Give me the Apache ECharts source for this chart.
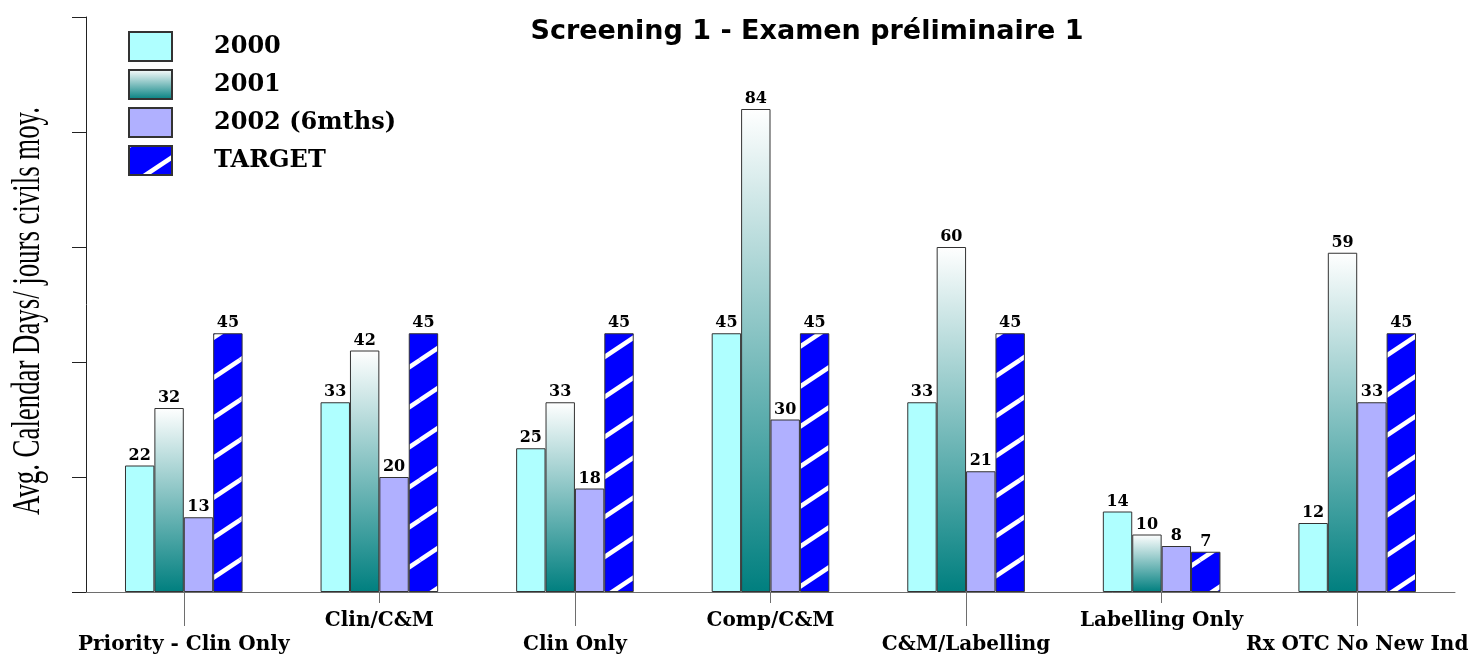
<!DOCTYPE html>
<html>
<head>
<meta charset="utf-8">
<script src="https://cdn.jsdelivr.net/npm/echarts@6/dist/echarts.min.js"></script>
<style>
html,body{margin:0;padding:0;background:#fff;}
#c{width:1470px;height:654px;}
</style>
</head>
<body>
<div id="c"></div>
<script>
const categories = ['Priority - Clin Only', 'Clin/C&M', 'Clin Only', 'Comp/C&M', 'C&M/Labelling', 'Labelling Only', 'Rx OTC No New Ind'];
const seriesNames = ['2000', '2001', '2002 (6mths)', 'TARGET'];
const v2000 = [22, 33, 25, 45, 33, 14, 12];
const v2001 = [32, 42, 33, 84, 60, 10, 59];
const v2002 = [13, 20, 18, 30, 21, 8, 33];
const vTarget = [45, 45, 45, 45, 45, 7, 45];
const yTicks = [0, 20, 40, 60, 80, 100];
const yTitle = 'Avg. Calendar Days/ jours civils moy.';
const chartTitle = 'Screening 1 - Examen préliminaire 1';

// striped pattern for TARGET
const pc = document.createElement('canvas');
pc.width = 60; pc.height = 40;
const ctx = pc.getContext('2d');
ctx.fillStyle = '#0000FF';
ctx.fillRect(0, 0, 60, 40);
ctx.strokeStyle = '#FFFFFF';
ctx.lineWidth = 4.5;
for (const dx of [-60, 0, 60]) {
  for (const dy of [-40, 0, 40]) {
    ctx.beginPath();
    ctx.moveTo(0 + dx, 40 + dy);
    ctx.lineTo(60 + dx, 0 + dy);
    ctx.stroke();
  }
}

const chart = echarts.init(document.getElementById('c'), null, {renderer: 'canvas'});
const labelStyle = {
  show: true, position: 'top', distance: 2,
  fontFamily: 'DejaVu Serif', fontWeight: 'bold', fontSize: 16, color: '#000'
};
const border = {borderColor: '#333333', borderWidth: 1};
const colors = [
  '#AFFFFF',
  new echarts.graphic.LinearGradient(0, 0, 0, 1, [
    {offset: 0, color: '#FFFFFF'}, {offset: 1, color: '#007F7F'}
  ]),
  '#B0B0FF',
  {image: pc, repeat: 'repeat'}
];
const vals = [v2000, v2001, v2002, vTarget];

const option = {
  backgroundColor: '#ffffff',
  animation: false,
  title: {
    text: chartTitle,
    left: 802, top: 13, textAlign: 'center',
    textStyle: {fontFamily: 'DejaVu Sans', fontWeight: 'bold', fontSize: 27, color: '#000'}
  },
  legend: {
    orient: 'vertical', left: 123, top: 26,
    itemWidth: 43, itemHeight: 29, itemGap: 7,
    icon: 'rect',
    data: seriesNames,
    textStyle: {fontFamily: 'DejaVu Serif', fontWeight: 'bold', fontSize: 24, color: '#000', padding: [0, 0, 0, 37]}
  },
  graphic: [{
    type: 'text', x: 28.5, y: 311, rotation: Math.PI / 2, scaleX: 0.67, scaleY: 1,
    style: {text: yTitle, font: '40px "Liberation Serif"', fill: '#000',
      align: 'center', verticalAlign: 'middle', textAlign: 'center', textVerticalAlign: 'middle'}
  }],
  grid: {left: 86, right: 15, top: 17, bottom: 62, containLabel: false, outerBoundsMode: 'none'},
  xAxis: [
    {
      type: 'category', data: categories, position: 'bottom',
      axisLine: {show: true, lineStyle: {color: '#6e6e6e', width: 1}},
      axisTick: {show: true, alignWithLabel: true, length: 34, lineStyle: {color: '#6e6e6e'},
        interval: function (i) { return i % 2 === 0; }},
      axisLabel: {show: true, margin: 43, interval: function (i) { return i % 2 === 0; },
        fontFamily: 'DejaVu Serif', fontWeight: 'bold', fontSize: 20, color: '#000', hideOverlap: false}
    },
    {
      type: 'category', data: categories, position: 'bottom',
      axisLine: {show: false},
      axisTick: {show: true, alignWithLabel: true, length: 11, lineStyle: {color: '#6e6e6e'},
        interval: function (i) { return i % 2 === 1; }},
      axisLabel: {show: true, margin: 19, interval: function (i) { return i % 2 === 1; },
        fontFamily: 'DejaVu Serif', fontWeight: 'bold', fontSize: 20, color: '#000', hideOverlap: false}
    }
  ],
  yAxis: {
    type: 'value', min: yTicks[0], max: yTicks[yTicks.length - 1], interval: yTicks[1] - yTicks[0],
    axisLine: {show: true, lineStyle: {color: '#222', width: 1}},
    axisTick: {show: true, inside: false, length: 14, lineStyle: {color: '#222'}},
    axisLabel: {show: false},
    splitLine: {show: false}
  },
  series: seriesNames.map((n, k) => ({
    name: n, type: 'bar', xAxisIndex: 0,
    data: vals[k],
    barWidth: 29.4, barGap: '0%',
    itemStyle: Object.assign({color: colors[k]}, border),
    label: labelStyle
  }))
};
chart.setOption(option);
</script>
</body>
</html>
